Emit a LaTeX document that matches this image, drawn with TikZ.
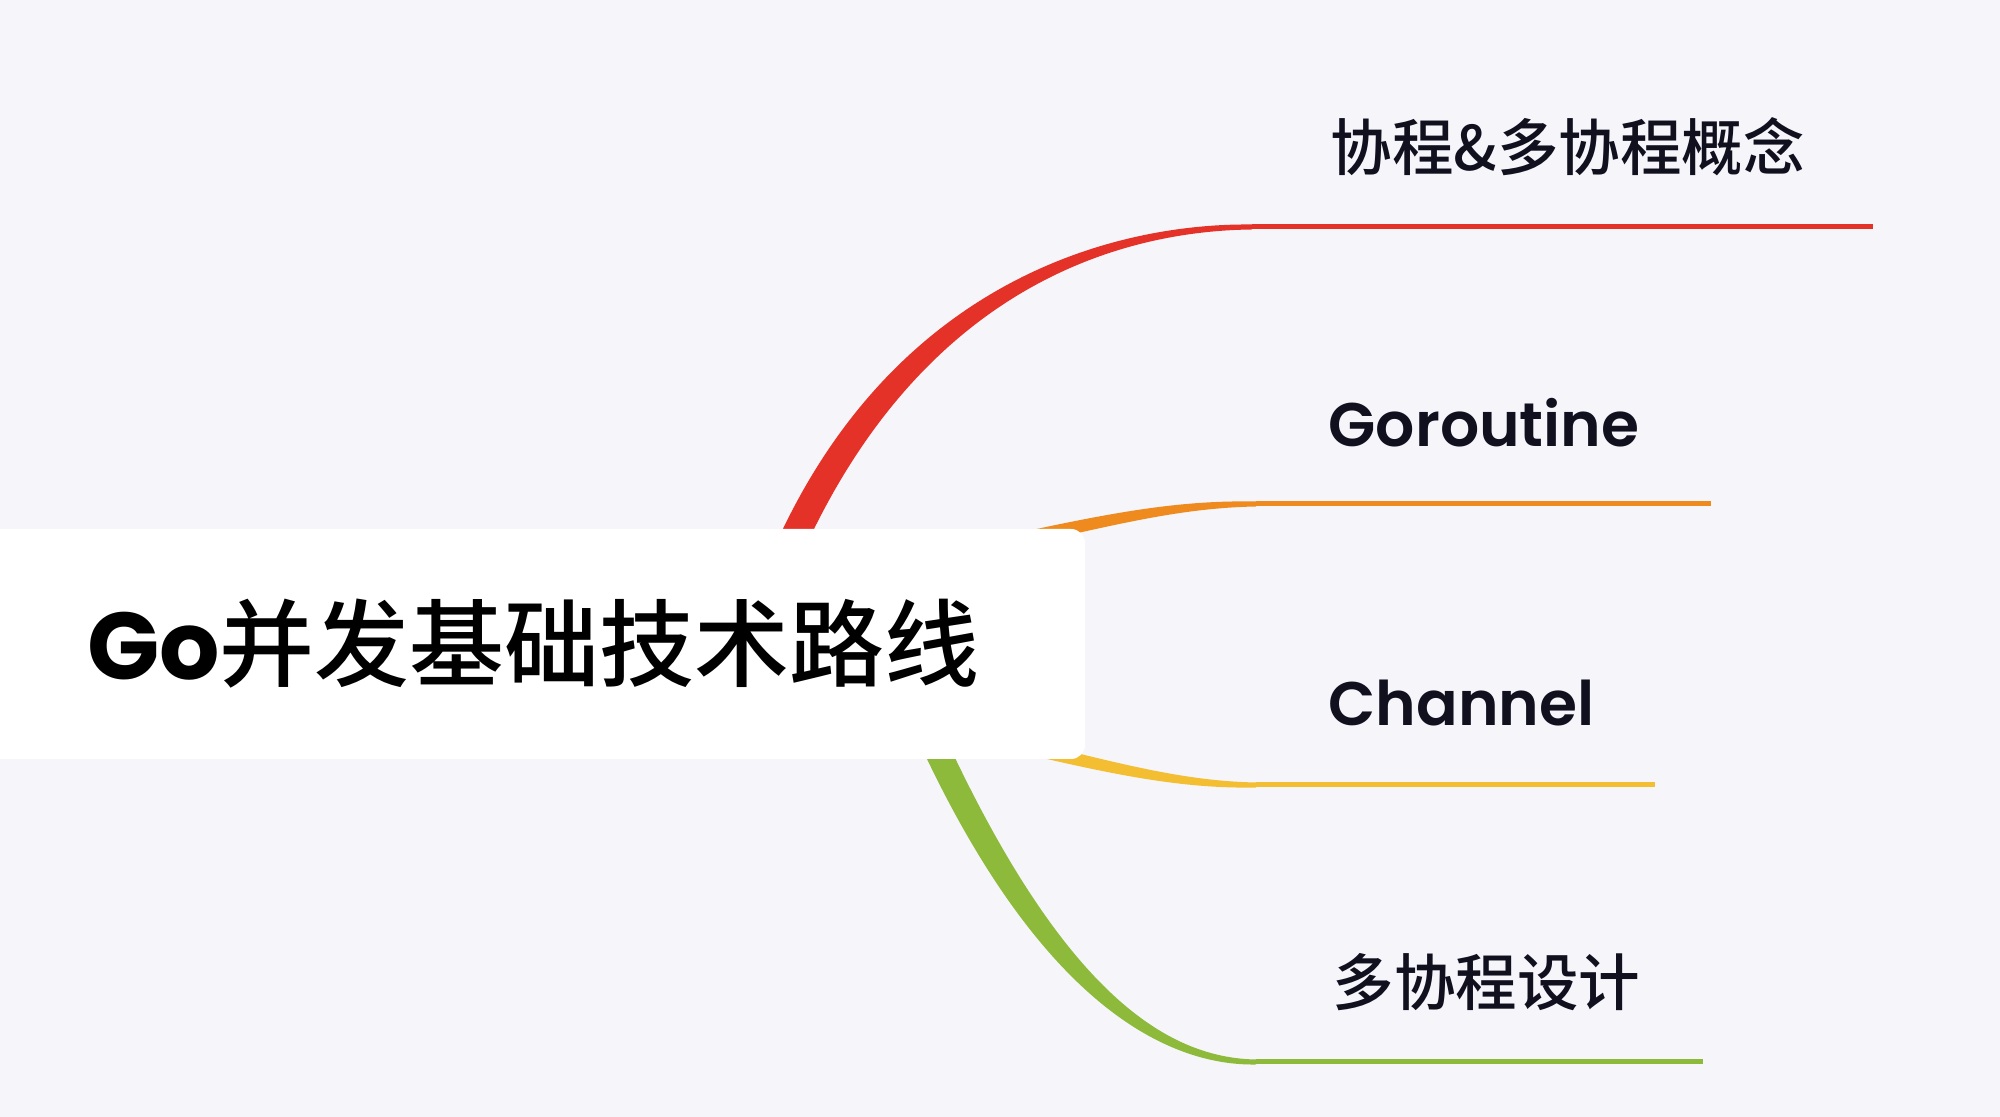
\documentclass[tikz,border=0pt]{standalone}
\usepackage{fontspec}
\usepackage{xcolor}
\usepackage{tikz}
\usetikzlibrary{calc}

\newfontfamily\cjkfont{Noto Sans CJK SC Medium}
\newfontfamily\latinfont{Poppins}
\newfontfamily\latinsemi{Poppins SemiBold}

\definecolor{bgcol}{RGB}{245,245,250}
\definecolor{redbr}{RGB}{229,50,40}
\definecolor{orangebr}{RGB}{238,138,30}
\definecolor{yellowbr}{RGB}{243,190,50}
\definecolor{greenbr}{RGB}{141,186,58}
\definecolor{inkcol}{RGB}{16,16,30}

\pgfdeclarelayer{backdrop}
\pgfdeclarelayer{branches}
\pgfsetlayers{backdrop,branches,main}

% tapered branch: #1 colour, #2 root, #3 and #4 controls,
% #5 start of the straight part, #6 its end, #7 half width at the root
\newcommand{\drawbranch}[7]{%
  \fill[#1] ($(#2)+(#7)$) .. controls ($(#3)+(#7)$) and ($(#4)+(0,0.04)$)
    .. ($(#5)+(0,0.025)$) -- ($(#5)-(0,0.025)$)
    .. controls ($(#4)-(0,0.04)$) and ($(#3)-(#7)$) .. ($(#2)-(#7)$) -- cycle;
  \draw[#1, stem] (#5) -- (#6);
}

\begin{document}
\begin{tikzpicture}[
  titlebox/.style={fill=white, rounded corners=4pt, minimum width=11.04cm,
                   minimum height=2.3cm, inner sep=0pt, text=black,
                   font=\fontsize{27}{32}\selectfont},
  leaf/.style={anchor=base west, inner sep=0pt, text=inkcol,
               font=\fontsize{17.5}{21}\selectfont},
  stem/.style={line width=0.05cm},
]
  \useasboundingbox (0,0) rectangle (20,11.17);
  \begin{pgfonlayer}{backdrop}
    \fill[bgcol] (0,0) rectangle (20,11.17);
  \end{pgfonlayer}

  % --- Central topic ---
  \node[titlebox] (topic) at (5.33,4.73)
    {{\latinfont\bfseries Go}{\cjkfont 并发基础技术路线}};

  % --- Branch labels ---
  \node[leaf] (concept)   at (13.30,9.46) {\cjkfont 协程\&多协程概念};
  \node[leaf] (goroutine) at (13.28,6.70) {\latinsemi Goroutine};
  \node[leaf] (channel)   at (13.28,3.91) {\latinsemi Channel};
  \node[leaf] (design)    at (13.32,1.11) {\cjkfont 多协程设计};

  % --- Branch anchors ---
  \coordinate (conceptroot)    at (7.82,5.52);
  \coordinate (conceptstart)   at (12.52,8.90);
  \coordinate (conceptend)     at (18.73,8.90);
  \coordinate (goroutineroot)  at (9.90,5.71);
  \coordinate (goroutinestart) at (12.56,6.13);
  \coordinate (goroutineend)   at (17.11,6.13);
  \coordinate (channelroot)    at (9.87,3.79);
  \coordinate (channelstart)   at (12.56,3.32);
  \coordinate (channelend)     at (16.55,3.32);
  \coordinate (designroot)     at (9.25,3.93);
  \coordinate (designstart)    at (12.56,0.55);
  \coordinate (designend)      at (17.03,0.55);

  % --- Branches, behind the central topic ---
  \begin{pgfonlayer}{branches}
    \drawbranch{redbr}{conceptroot}{9.00,8.29}{11.12,8.90}{conceptstart}{conceptend}{-0.129,0.056}
    \drawbranch{orangebr}{goroutineroot}{11.07,5.97}{11.76,6.13}{goroutinestart}{goroutineend}{-0.015,0.065}
    \drawbranch{yellowbr}{channelroot}{11.04,3.51}{11.76,3.32}{channelstart}{channelend}{0.016,0.065}
    \drawbranch{greenbr}{designroot}{10.48,1.20}{11.66,0.55}{designstart}{designend}{0.118,0.053}
  \end{pgfonlayer}
\end{tikzpicture}
\end{document}
